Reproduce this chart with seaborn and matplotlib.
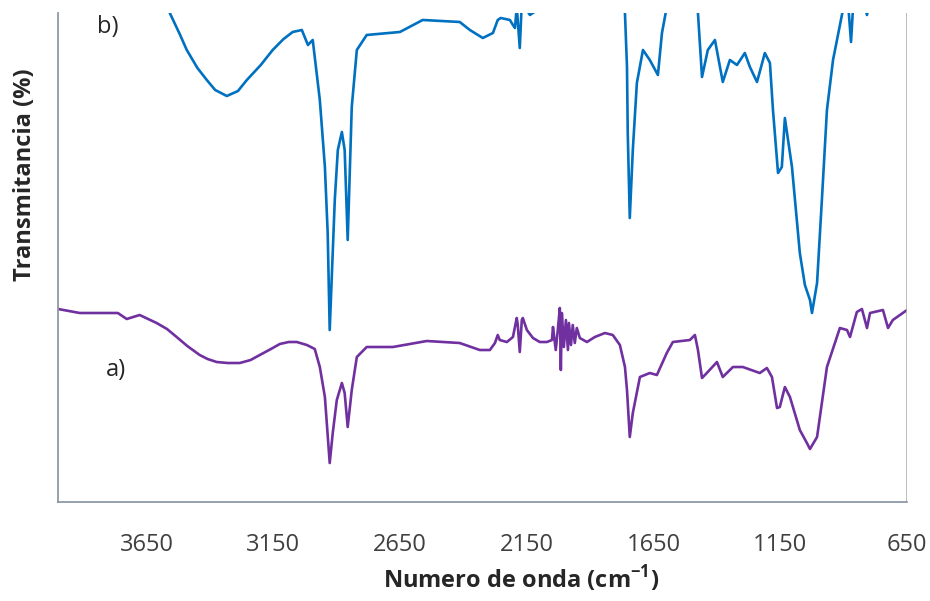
import numpy as np
import pandas as pd
import seaborn as sns
import matplotlib.pyplot as plt

# spectrum a) - wavenumber (cm-1) and transmittance (arb. units)
wn_a = [4000, 3914, 3764, 3729, 3678, 3611, 3570, 3532, 3490, 3441, 3410, 3374,
        3330, 3283, 3240, 3204, 3160, 3125, 3090,
        3058, 3018, 2987, 2967, 2947, 2928, 2916, 2900, 2880, 2869, 2857, 2841,
        2821, 2782, 2679, 2545, 2415, 2336, 2296, 2276, 2265, 2257, 2229, 2205,
        2190, 2186, 2178, 2170, 2166, 2150, 2126, 2099, 2071, 2051, 2047, 2036,
        2028, 2020, 2016, 2012, 2004, 1996, 1988, 1984, 1976, 1969, 1961, 1953,
        1941, 1913, 1882, 1842, 1811, 1783, 1763, 1755, 1744, 1732, 1704, 1665,
        1637, 1598, 1574, 1507, 1487, 1475, 1459, 1440, 1400, 1377, 1337, 1298,
        1231, 1203, 1183, 1163, 1152, 1132, 1112, 1073, 1045, 1033, 1005, 966,
        915, 887, 875, 848, 828, 808, 796, 745, 725, 706, 650]
tr_a = [193, 189, 189, 183, 187, 179, 173, 165, 156, 147, 143, 140,
        139, 139, 142, 147, 153, 158, 160,
        160, 157, 153, 135, 105, 39, 69, 102, 119, 109, 75, 112,
        145, 155, 155, 161, 159, 152, 152, 159, 167, 162, 160, 165,
        184, 177, 150, 182, 184, 172, 164, 160, 160, 162, 175, 152,
        172, 194, 132, 189, 155, 182, 152, 179, 157, 177, 159, 174,
        164, 160, 165, 169, 167, 157, 135, 112, 65, 89, 125, 129,
        127, 149, 160, 162, 167, 152, 124, 129, 140, 125, 135, 135,
        129, 134, 125, 94, 95, 115, 105, 72, 59, 53, 65, 135,
        174, 172, 165, 190, 193, 174, 189, 192, 174, 182, 192]

# spectrum b) - goes off the top of the plot in places
wn_b = [4000, 3700, 3600, 3559, 3520, 3492, 3450, 3413, 3380, 3334, 3290, 3255,
        3200, 3153, 3110, 3074, 3038, 3014, 2995,
        2967, 2947, 2936, 2928, 2908, 2896, 2880, 2869, 2857, 2841, 2821, 2782,
        2651, 2561, 2415, 2375, 2324, 2284, 2265, 2253, 2217, 2205, 2197, 2190,
        2178, 2170, 2138, 2110, 2090, 1900, 1780, 1763, 1755, 1752, 1744, 1732,
        1716, 1692, 1665, 1633, 1617, 1598, 1550, 1490, 1475, 1459, 1436, 1408,
        1377, 1349, 1321, 1290, 1270, 1242, 1211, 1191, 1179, 1159, 1144, 1132,
        1104, 1073, 1053, 1033, 1025, 1005, 986, 966, 942, 903, 883, 871,
        863, 840, 808, 790, 650]
tr_b = [600, 540, 510, 489, 468, 452, 434, 422, 412, 406, 411, 422,
        437, 452, 463, 470, 472, 457, 462,
        402, 335, 269, 172, 302, 352, 370, 352, 262, 395, 452, 467,
        470, 482, 480, 472, 464, 469, 482, 484, 482, 477, 474, 495,
        454, 500, 487, 492, 510, 530, 520, 489, 435, 369, 284, 352,
        419, 452, 442, 427, 469, 495, 540, 520, 489, 425, 452, 462,
        420, 442, 437, 449, 435, 420, 449, 439, 392, 329, 335, 384,
        335, 249, 217, 202, 189, 219, 302, 392, 442, 492, 500, 460,
        495, 520, 487, 515, 540]

df = pd.concat([
    pd.DataFrame({"wn": wn_a, "tr": tr_a, "muestra": "a)"}),
    pd.DataFrame({"wn": wn_b, "tr": tr_b, "muestra": "b)"}),
])

sns.set_style("white")
plt.rcParams["font.family"] = ["Open Sans", "DejaVu Sans"]

fig = plt.figure(figsize=(9.3, 6.01), dpi=100)
ax = fig.add_axes([0.0624, 0.1647, 0.9129, 0.8137])

sns.lineplot(data=df, x="wn", y="tr", hue="muestra",
             palette={"a)": "#7030A0", "b)": "#0070C0"},
             estimator=None, linewidth=1.9, legend=False, ax=ax)

ax.set_xlim(4000, 650)
ax.set_ylim(0, 489)
ax.set_xticks([3650, 3150, 2650, 2150, 1650, 1150, 650])
ax.set_yticks([])
ax.tick_params(axis="x", direction="out", length=7, width=1.2,
               color="#8c8c8c", labelsize=17, labelcolor="#404040", pad=15)
for s in ["top", "right"]:
    ax.spines[s].set_visible(False)
for s in ["left", "bottom"]:
    ax.spines[s].set_color("#8c9aa6")
    ax.spines[s].set_linewidth(1.3)
# thin right edge line like the original
ax.axvline(650, color="#b0b0b0", linewidth=1.2)

ax.set_xlabel("")
ax.set_ylabel("")
fig.text(0.56, 0.038, "Numero de onda (cm$^{\\mathregular{-1}}$)", ha="center",
         va="center", fontsize=17, fontweight="bold")
fig.text(0.027, 0.71, "Transmitancia (%)", rotation=90, ha="center",
         va="center", fontsize=17, fontweight="bold")

ax.text(3805, 475, "b)", fontsize=17, color="#262626", va="center", ha="center")
ax.text(3770, 132, "a)", fontsize=17, color="#262626", va="center", ha="center")

fig.savefig("out.png", dpi=100)
